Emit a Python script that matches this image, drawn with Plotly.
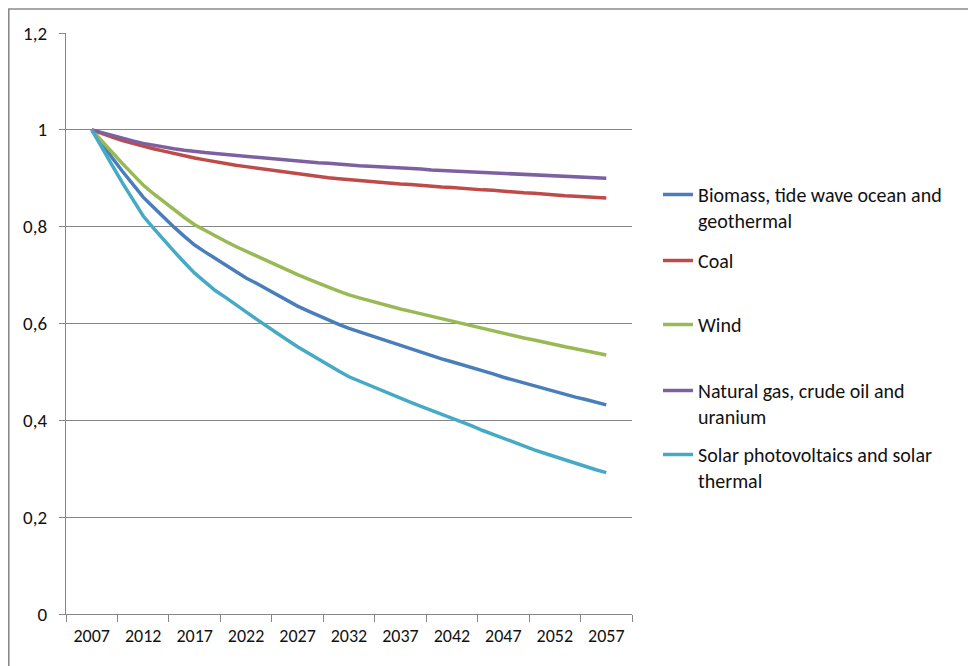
import plotly.graph_objects as go

years = list(range(2007, 2058))

biomass = [1.000, 0.970, 0.942, 0.914, 0.887, 0.861, 0.840, 0.819, 0.799, 0.780,
           0.762, 0.748, 0.734, 0.720, 0.707, 0.694, 0.683, 0.671, 0.659, 0.648,
           0.636, 0.626, 0.616, 0.606, 0.598, 0.590, 0.583, 0.576, 0.569, 0.562,
           0.555, 0.547, 0.540, 0.534, 0.527, 0.521, 0.515, 0.508, 0.502, 0.496,
           0.489, 0.483, 0.477, 0.471, 0.465, 0.460, 0.454, 0.448, 0.443, 0.437,
           0.432]
coal = [1.000, 0.992, 0.985, 0.978, 0.972, 0.966, 0.961, 0.956, 0.951, 0.946,
        0.942, 0.938, 0.934, 0.930, 0.927, 0.924, 0.921, 0.918, 0.915, 0.912,
        0.909, 0.906, 0.904, 0.901, 0.899, 0.897, 0.895, 0.893, 0.891, 0.890,
        0.888, 0.887, 0.885, 0.884, 0.882, 0.881, 0.879, 0.878, 0.876, 0.875,
        0.873, 0.872, 0.870, 0.869, 0.867, 0.866, 0.864, 0.863, 0.862, 0.860,
        0.859]
wind = [1.000, 0.976, 0.953, 0.930, 0.908, 0.886, 0.868, 0.851, 0.834, 0.819,
        0.804, 0.792, 0.781, 0.770, 0.759, 0.749, 0.739, 0.729, 0.719, 0.710,
        0.701, 0.692, 0.683, 0.675, 0.667, 0.659, 0.653, 0.647, 0.641, 0.636,
        0.630, 0.625, 0.620, 0.615, 0.610, 0.604, 0.599, 0.594, 0.589, 0.584,
        0.580, 0.575, 0.570, 0.566, 0.561, 0.557, 0.552, 0.548, 0.544, 0.539,
        0.535]
gas = [1.000, 0.994, 0.988, 0.982, 0.977, 0.972, 0.968, 0.965, 0.961, 0.958,
       0.955, 0.953, 0.951, 0.949, 0.948, 0.946, 0.944, 0.942, 0.940, 0.938,
       0.936, 0.934, 0.932, 0.931, 0.929, 0.928, 0.926, 0.925, 0.924, 0.922,
       0.921, 0.920, 0.919, 0.917, 0.916, 0.915, 0.914, 0.913, 0.912, 0.911,
       0.910, 0.908, 0.907, 0.906, 0.905, 0.904, 0.903, 0.902, 0.902, 0.901,
       0.900]
solar = [1.000, 0.962, 0.926, 0.890, 0.855, 0.822, 0.797, 0.772, 0.749, 0.726,
         0.704, 0.686, 0.668, 0.654, 0.638, 0.624, 0.609, 0.594, 0.580, 0.566,
         0.552, 0.539, 0.526, 0.514, 0.502, 0.490, 0.481, 0.472, 0.463, 0.454,
         0.445, 0.437, 0.429, 0.421, 0.413, 0.405, 0.396, 0.388, 0.379, 0.371,
         0.362, 0.354, 0.346, 0.339, 0.332, 0.325, 0.318, 0.311, 0.305, 0.298,
         0.292]

series_names = ["Biomass, tide wave ocean and<br>geothermal", "Coal", "Wind",
                "Natural gas, crude oil and<br>uranium",
                "Solar photovoltaics and solar<br>thermal"]
series_values = [biomass, coal, wind, gas, solar]
colors = ["#4A7EBB", "#BE4B48", "#98B954", "#7D60A0", "#46AAC5"]

x_labels = list(range(2007, 2058, 5))
y_ticks = [0, 0.2, 0.4, 0.6, 0.8, 1, 1.2]
y_text = ["0", "0,2", "0,4", "0,6", "0,8", "1", "1,2"]

# page body has an 8px margin, so figure coordinates are offset by 8px
W, H = 976, 666
L, R, T, B = 58, 624, 25, 606
FONT = "Carlito, Calibri, Lato, 'Liberation Sans', sans-serif"
GRID = "#868686"

fig = go.Figure()
legend_tops = [167, 233, 297, 363, 427]
legend_names = ["legend", "legend2", "legend3", "legend4", "legend5"]
for name, vals, col, lg in zip(series_names, series_values, colors, legend_names):
    fig.add_trace(go.Scatter(x=years, y=vals, mode="lines", name=name,
                             line=dict(color=col, width=3.5), legend=lg))

def py(v):
    return (B - v) / (B - T)

def px(v):
    return (v - L) / (R - L)

legend_common = dict(xanchor="left", yanchor="top", valign="top",
                     font=dict(family=FONT, size=20, color="#111111"),
                     bgcolor="rgba(0,0,0,0)", borderwidth=0)
layout_legends = {}
for lg, top in zip(legend_names, legend_tops):
    layout_legends[lg] = dict(x=px(650), y=py(top), **legend_common)

fig.update_layout(
    width=W, height=H,
    margin=dict(l=L, r=W - R, t=T, b=H - B, pad=0),
    paper_bgcolor="white", plot_bgcolor="white",
    font=dict(family=FONT, size=18, color="#111111"),
    showlegend=True,
    **layout_legends,
    xaxis=dict(range=[2004.5, 2059.5], tickmode="array", tickvals=x_labels,
               ticktext=[str(v) for v in x_labels], ticks="", showgrid=False,
               showline=True, linecolor=GRID, linewidth=1.3, zeroline=False,
               ticklabelstandoff=5,
               minor=dict(tickmode="array", tickvals=[2004.5 + 5 * i for i in range(12)],
                          ticks="outside", ticklen=7, tickcolor=GRID, tickwidth=1.3,
                          showgrid=False)),
    yaxis=dict(range=[0, 1.2], tickmode="array", tickvals=y_ticks, ticktext=y_text,
               ticks="outside", ticklen=6, tickcolor=GRID, tickwidth=1.3,
               showgrid=True, gridcolor=GRID, gridwidth=1.3,
               showline=True, linecolor=GRID, linewidth=1.3, zeroline=False,
               tickfont=dict(family=FONT, size=19, color="#111111"),
               ticklabelstandoff=8),
    shapes=[dict(type="rect", xref="paper", yref="paper",
                 x0=px(0.8), x1=px(990), y0=py(1.0), y1=py(680),
                 line=dict(color="#8a8a8a", width=1.6), layer="below")],
)

fig.write_html("out.html")
